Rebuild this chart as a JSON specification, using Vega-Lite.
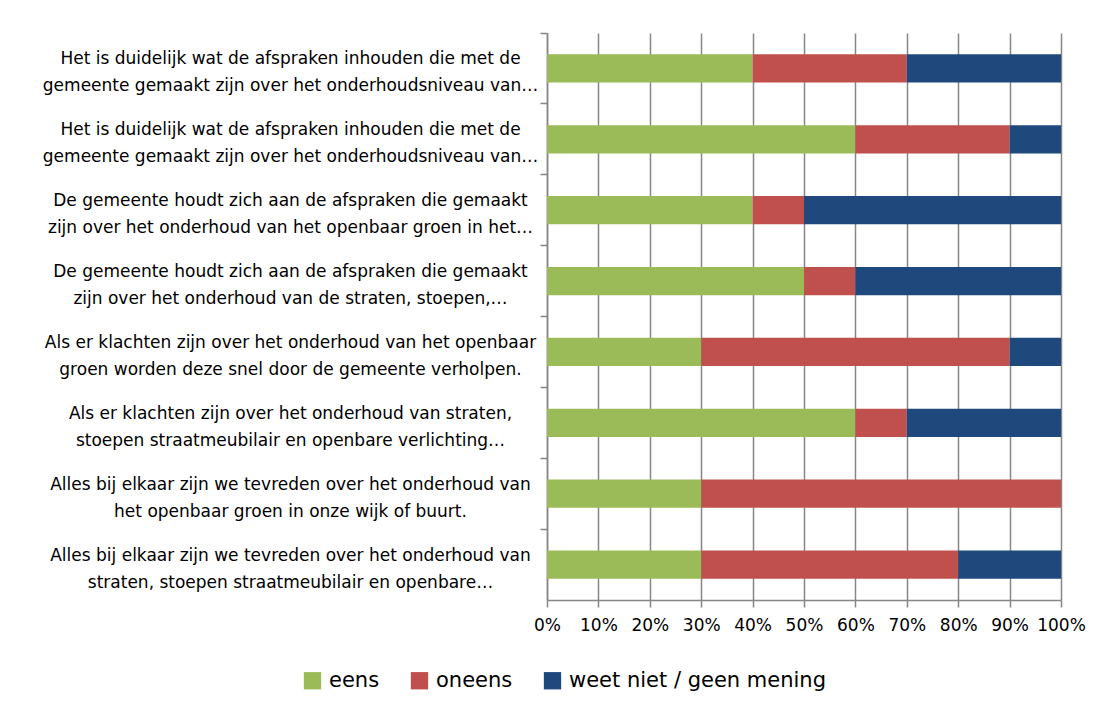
{
  "$schema": "https://vega.github.io/schema/vega-lite/v6.json",
  "width": 514,
  "height": 567,
  "autosize": "none",
  "padding": {"left": 547, "top": 33, "right": 50, "bottom": 115},
  "background": "#ffffff",
  "config": {
    "view": {"stroke": null},
    "font": "DejaVu Sans"
  },
  "data": {
    "values": [
      {"q": "Het is duidelijk wat de afspraken inhouden die met de|gemeente gemaakt zijn over het onderhoudsniveau van…", "cat": "eens", "k": 1, "v": 40},
      {"q": "Het is duidelijk wat de afspraken inhouden die met de|gemeente gemaakt zijn over het onderhoudsniveau van…", "cat": "oneens", "k": 2, "v": 30},
      {"q": "Het is duidelijk wat de afspraken inhouden die met de|gemeente gemaakt zijn over het onderhoudsniveau van…", "cat": "weet niet / geen mening", "k": 3, "v": 30},
      {"q": "Het is duidelijk wat de afspraken inhouden die met de|gemeente gemaakt zijn over het onderhoudsniveau van…\u200b", "cat": "eens", "k": 1, "v": 60},
      {"q": "Het is duidelijk wat de afspraken inhouden die met de|gemeente gemaakt zijn over het onderhoudsniveau van…\u200b", "cat": "oneens", "k": 2, "v": 30},
      {"q": "Het is duidelijk wat de afspraken inhouden die met de|gemeente gemaakt zijn over het onderhoudsniveau van…\u200b", "cat": "weet niet / geen mening", "k": 3, "v": 10},
      {"q": "De gemeente houdt zich aan de afspraken die gemaakt|zijn over het onderhoud van het openbaar groen in het…", "cat": "eens", "k": 1, "v": 40},
      {"q": "De gemeente houdt zich aan de afspraken die gemaakt|zijn over het onderhoud van het openbaar groen in het…", "cat": "oneens", "k": 2, "v": 10},
      {"q": "De gemeente houdt zich aan de afspraken die gemaakt|zijn over het onderhoud van het openbaar groen in het…", "cat": "weet niet / geen mening", "k": 3, "v": 50},
      {"q": "De gemeente houdt zich aan de afspraken die gemaakt|zijn over het onderhoud van de straten, stoepen,…", "cat": "eens", "k": 1, "v": 50},
      {"q": "De gemeente houdt zich aan de afspraken die gemaakt|zijn over het onderhoud van de straten, stoepen,…", "cat": "oneens", "k": 2, "v": 10},
      {"q": "De gemeente houdt zich aan de afspraken die gemaakt|zijn over het onderhoud van de straten, stoepen,…", "cat": "weet niet / geen mening", "k": 3, "v": 40},
      {"q": "Als er klachten zijn over het onderhoud van het openbaar|groen worden deze snel door de gemeente verholpen.", "cat": "eens", "k": 1, "v": 30},
      {"q": "Als er klachten zijn over het onderhoud van het openbaar|groen worden deze snel door de gemeente verholpen.", "cat": "oneens", "k": 2, "v": 60},
      {"q": "Als er klachten zijn over het onderhoud van het openbaar|groen worden deze snel door de gemeente verholpen.", "cat": "weet niet / geen mening", "k": 3, "v": 10},
      {"q": "Als er klachten zijn over het onderhoud van straten,|stoepen straatmeubilair en openbare verlichting…", "cat": "eens", "k": 1, "v": 60},
      {"q": "Als er klachten zijn over het onderhoud van straten,|stoepen straatmeubilair en openbare verlichting…", "cat": "oneens", "k": 2, "v": 10},
      {"q": "Als er klachten zijn over het onderhoud van straten,|stoepen straatmeubilair en openbare verlichting…", "cat": "weet niet / geen mening", "k": 3, "v": 30},
      {"q": "Alles bij elkaar zijn we tevreden over het onderhoud van|het openbaar groen in onze wijk of buurt.", "cat": "eens", "k": 1, "v": 30},
      {"q": "Alles bij elkaar zijn we tevreden over het onderhoud van|het openbaar groen in onze wijk of buurt.", "cat": "oneens", "k": 2, "v": 70},
      {"q": "Alles bij elkaar zijn we tevreden over het onderhoud van|het openbaar groen in onze wijk of buurt.", "cat": "weet niet / geen mening", "k": 3, "v": 0},
      {"q": "Alles bij elkaar zijn we tevreden over het onderhoud van|straten, stoepen straatmeubilair en openbare…", "cat": "eens", "k": 1, "v": 30},
      {"q": "Alles bij elkaar zijn we tevreden over het onderhoud van|straten, stoepen straatmeubilair en openbare…", "cat": "oneens", "k": 2, "v": 50},
      {"q": "Alles bij elkaar zijn we tevreden over het onderhoud van|straten, stoepen straatmeubilair en openbare…", "cat": "weet niet / geen mening", "k": 3, "v": 20}
    ]
  },
  "mark": {"type": "bar", "height": {"band": 0.4}},
  "encoding": {
    "y": {
      "field": "q",
      "type": "nominal",
      "sort": null,
      "scale": {"paddingInner": 0, "paddingOuter": 0},
      "axis": {
        "title": null,
        "labelExpr": "split(datum.label, '|')",
        "labelAlign": "center",
        "labelBaseline": "middle",
        "labelPadding": 250,
        "labelOffset": -9,
        "labelFontSize": 17,
        "labelLineHeight": 27,
        "labelColor": "#000000",
        "labelLimit": 0,
        "bandPosition": 0,
        "tickSize": 7,
        "tickColor": "#868686",
        "domainColor": "#868686",
        "domainWidth": 1.5,
        "tickWidth": 1.5,
        "grid": false
      }
    },
    "x": {
      "field": "v",
      "type": "quantitative",
      "stack": "normalize",
      "scale": {"domain": [0, 1], "nice": false},
      "axis": {
        "title": null,
        "values": [0, 0.1, 0.2, 0.3, 0.4, 0.5, 0.6, 0.7, 0.8, 0.9, 1],
        "format": ".0%",
        "labelFontSize": 17,
        "labelColor": "#000000",
        "labelPadding": 10,
        "labelFlush": false,
        "tickSize": 7,
        "tickColor": "#868686",
        "tickWidth": 1.5,
        "domainColor": "#868686",
        "domainWidth": 1.5,
        "grid": true,
        "gridColor": "#868686",
        "gridWidth": 1.5
      }
    },
    "color": {
      "field": "cat",
      "type": "nominal",
      "scale": {
        "domain": ["eens", "oneens", "weet niet / geen mening"],
        "range": ["#9BBB59", "#C0504D", "#1F497D"]
      },
      "legend": {
        "title": null,
        "orient": "none",
        "direction": "horizontal",
        "legendX": -245,
        "legendY": 637,
        "symbolType": "square",
        "symbolSize": 300,
        "symbolStrokeWidth": 0,
        "symbolOpacity": 1,
        "labelFontSize": 21,
        "labelColor": "#000000",
        "labelOffset": 6,
        "columnPadding": 29,
        "labelLimit": 0
      }
    },
    "order": {"field": "k", "type": "quantitative"}
  }
}
